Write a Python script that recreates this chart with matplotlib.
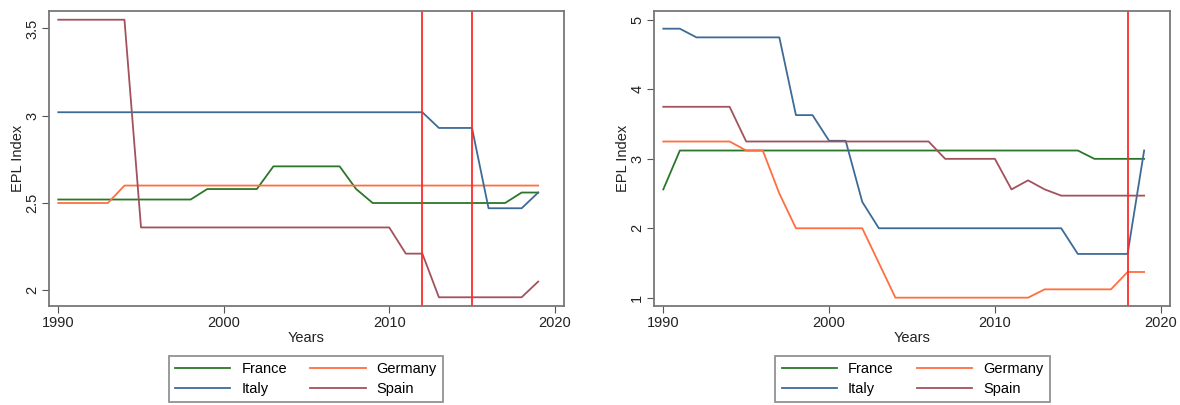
import matplotlib
matplotlib.use("Agg")
import matplotlib.pyplot as plt

plt.rcParams['font.family'] = ['Liberation Sans', 'DejaVu Sans']

years = list(range(1990, 2020))

# Left panel
left_france = [2.52]*9 + [2.58]*4 + [2.71]*5 + [2.58] + [2.50]*9 + [2.56]*2
left_germany = [2.50]*4 + [2.60]*26
left_italy = [3.02]*23 + [2.93]*3 + [2.47]*3 + [2.56]
left_spain = [3.55]*5 + [2.36]*16 + [2.21]*2 + [1.96]*6 + [2.05]
left_vlines = [2012, 2015]

# Right panel
right_france = [2.56] + [3.12]*25 + [3.00]*4
right_germany = [3.25]*5 + [3.12]*2 + [2.50] + [2.00]*5 + [1.50] + [1.00]*9 + [1.12]*5 + [1.37]*2
right_italy = [4.875]*2 + [4.75]*6 + [3.63]*2 + [3.26]*2 + [2.38] + [2.00]*12 + [1.63]*4 + [3.12]
right_spain = [3.75]*5 + [3.25]*12 + [3.00]*4 + [2.56, 2.69, 2.56] + [2.47]*6
right_vlines = [2018]

countries = ['France', 'Germany', 'Italy', 'Spain']
colors = {'France': '#2a772a', 'Germany': '#ff6e40', 'Italy': '#3d6b96', 'Spain': '#a2525c'}

FS = 10.5
fig = plt.figure(figsize=(11.8, 4.05), dpi=100)
W, H = 1180, 405

def make_ax(x0, x1, y0, y1):
    return fig.add_axes([x0/W, 1 - y1/H, (x1-x0)/W, (y1-y0)/H])

ax1 = make_ax(49, 564, 11, 306)
ax2 = make_ax(654, 1170, 11, 306)

panels = [
    (ax1, [left_france, left_germany, left_italy, left_spain], left_vlines,
     (1.91, 3.60), [2, 2.5, 3, 3.5], ['2', '2.5', '3', '3.5'], 306),
    (ax2, [right_france, right_germany, right_italy, right_spain], right_vlines,
     (0.88, 5.13), [1, 2, 3, 4, 5], ['1', '2', '3', '4', '5'], 912.5),
]

for ax, series, vlines, ylim, yt, ytl, lcx in panels:
    handles = {}
    for name, vals in zip(countries, series):
        h, = ax.plot(years, vals, color=colors[name], lw=1.3, label=name)
        handles[name] = h
    for v in vlines:
        ax.axvline(v, color='#ff2a2a', lw=1.3)
    ax.set_xlim(1989.44, 2020.56)
    ax.set_ylim(*ylim)
    ax.set_xticks([1990, 2000, 2010, 2020])
    ax.set_yticks(yt)
    ax.set_yticklabels(ytl, rotation=90, va='center')
    ax.tick_params(axis='both', labelsize=FS, color='#555555', length=5, labelcolor='#222222')
    ax.tick_params(axis='x', pad=2)
    ax.tick_params(axis='y', pad=2)
    for s in ax.spines.values():
        s.set_color('#777777')
        s.set_linewidth(1.3)
    ax.set_xlabel('Years', fontsize=FS, labelpad=1, color='#222222')
    ax.set_ylabel('EPL Index', fontsize=FS, labelpad=0, color='#222222')
    order = ['France', 'Italy', 'Germany', 'Spain']
    leg = fig.legend([handles[n] for n in order], order, ncol=2, loc='upper center',
                     bbox_to_anchor=(lcx/W, 1 - 356/H),
                     frameon=True, fancybox=False, fontsize=FS,
                     handlelength=3.8, borderpad=0.42, labelspacing=0.42,
                     columnspacing=1.6, handletextpad=0.75, borderaxespad=0)
    leg.get_frame().set_edgecolor('#777777')
    leg.get_frame().set_linewidth(1.3)

fig.savefig('out.png', dpi=100)
